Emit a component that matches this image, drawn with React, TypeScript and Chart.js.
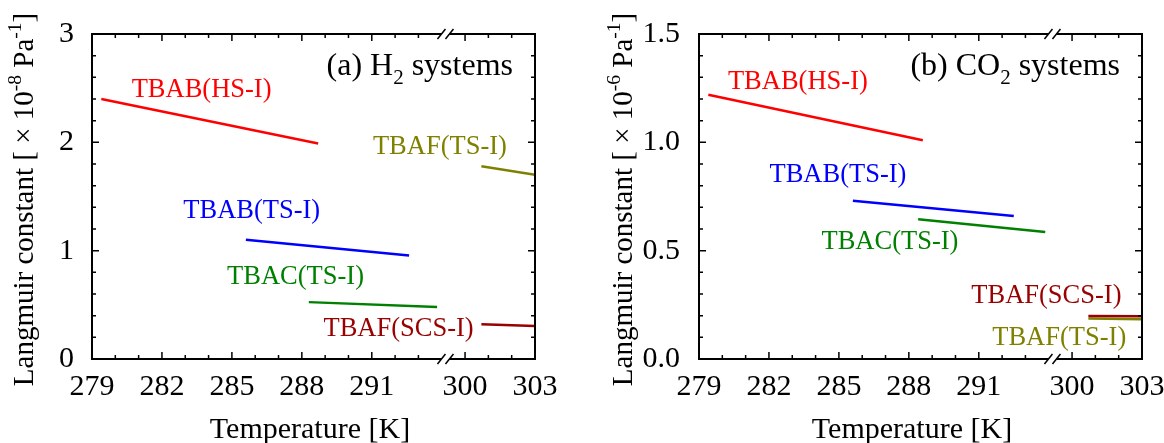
import React, { useEffect, useRef } from 'react';
import { Chart, registerables, LinearScale } from 'chart.js';

Chart.register(...registerables);

const FONT = "'Liberation Serif', 'Times New Roman', serif";

// ---------- x axis (temperature, K) with a break between ~294 K and 300 K ----------
const X_MIN = 279;
const X_MAX = 303;
const X_BREAK_FROM = 297; // temperatures at/above this are drawn after the break
const X_BREAK_SHIFT = 5; // kelvins cut out by the break
const X_BREAK_MARK = 294.16;
const X_TICKS = [279, 280, 281, 282, 283, 284, 285, 286, 287, 288, 289, 290, 291, 292, 293, 300, 301, 302, 303];
const X_TICK_LABELS = [279, 282, 285, 288, 291, 300, 303];
const X_TITLE = 'Temperature [K]';

// ---------- (a) H2 systems, Langmuir constant ×10^-8 Pa^-1 ----------
const H2_TBAB_HS_T = [279.4, 288.7];
const H2_TBAB_HS_K = [2.4, 1.99];
const H2_TBAB_TS_T = [285.6, 292.6];
const H2_TBAB_TS_K = [1.1, 0.955];
const H2_TBAC_TS_T = [288.3, 293.8];
const H2_TBAC_TS_K = [0.525, 0.48];
const H2_TBAF_TS_T = [300.7, 303];
const H2_TBAF_TS_K = [1.78, 1.7];
const H2_TBAF_SCS_T = [300.7, 303];
const H2_TBAF_SCS_K = [0.32, 0.305];

// ---------- (b) CO2 systems, Langmuir constant ×10^-6 Pa^-1 ----------
const CO2_TBAB_HS_T = [279.4, 288.6];
const CO2_TBAB_HS_K = [1.22, 1.01];
const CO2_TBAB_TS_T = [285.6, 292.5];
const CO2_TBAB_TS_K = [0.73, 0.66];
const CO2_TBAC_TS_T = [288.4, 293.85];
const CO2_TBAC_TS_K = [0.645, 0.586];
const CO2_TBAF_SCS_T = [300.7, 303];
const CO2_TBAF_SCS_K = [0.199, 0.197];
const CO2_TBAF_TS_T = [300.7, 303];
const CO2_TBAF_TS_K = [0.187, 0.184];

const RED = '#ff0000';
const BLUE = '#0000ff';
const GREEN = '#008000';
const OLIVE = '#808000';
const DARKRED = '#990000';

class BrokenLinearScale extends LinearScale {
  static id = 'brokenLinear';
  static defaults = {};
  buildTicks() {
    return X_TICKS.map((value) => ({ value }));
  }
  getPixelForValue(value: number) {
    const v = value >= X_BREAK_FROM ? value - X_BREAK_SHIFT : value;
    return (this as any).getPixelForDecimal((v - X_MIN) / (X_MAX - X_BREAK_SHIFT - X_MIN));
  }
}
Chart.register(BrokenLinearScale as any);

const H2_PANEL = {
  title: [{ text: '(a) H' }, { text: '2', sub: true }, { text: ' systems' }],
  exponent: '-8',
  yMax: 3,
  yStep: 0.2,
  yLabelEvery: 1,
  yDecimals: 0,
  layout: { axisLeft: 92, padRight: 47, yLabelPad: 18, yTitleX: 33, xTitleX: 310 },
  series: [
    { name: 'TBAB(HS-I)', color: RED, t: H2_TBAB_HS_T, k: H2_TBAB_HS_K, at: [283.7, 2.48] },
    { name: 'TBAB(TS-I)', color: BLUE, t: H2_TBAB_TS_T, k: H2_TBAB_TS_K, at: [285.85, 1.366] },
    { name: 'TBAC(TS-I)', color: GREEN, t: H2_TBAC_TS_T, k: H2_TBAC_TS_K, at: [287.73, 0.752] },
    { name: 'TBAF(TS-I)', color: OLIVE, t: H2_TBAF_TS_T, k: H2_TBAF_TS_K, at: [293.92, 1.957] },
    { name: 'TBAF(SCS-I)', color: DARKRED, t: H2_TBAF_SCS_T, k: H2_TBAF_SCS_K, at: [292.15, 0.277] },
  ],
};

const CO2_PANEL = {
  title: [{ text: '(b) CO' }, { text: '2', sub: true }, { text: ' systems' }],
  exponent: '-6',
  yMax: 1.5,
  yStep: 0.1,
  yLabelEvery: 0.5,
  yDecimals: 1,
  layout: { axisLeft: 117, padRight: 22, yLabelPad: 19, yTitleX: 50, xTitleX: 330 },
  series: [
    { name: 'TBAB(HS-I)', color: RED, t: CO2_TBAB_HS_T, k: CO2_TBAB_HS_K, at: [283.24, 1.276] },
    { name: 'TBAB(TS-I)', color: BLUE, t: CO2_TBAB_TS_T, k: CO2_TBAB_TS_K, at: [284.96, 0.849] },
    { name: 'TBAC(TS-I)', color: GREEN, t: CO2_TBAC_TS_T, k: CO2_TBAC_TS_K, at: [287.19, 0.54] },
    { name: 'TBAF(SCS-I)', color: DARKRED, t: CO2_TBAF_SCS_T, k: CO2_TBAF_SCS_K, at: [293.9, 0.291] },
    { name: 'TBAF(TS-I)', color: OLIVE, t: CO2_TBAF_TS_T, k: CO2_TBAF_TS_K, at: [294.45, 0.097] },
  ],
};

function drawParts(ctx: CanvasRenderingContext2D, parts: any[], startX: number, baseY: number, size: number, small: number, shift: number) {
  let cx = startX;
  for (const p of parts) {
    const s = p.sub || p.sup ? small : size;
    ctx.font = `${s}px ${FONT}`;
    const dy = p.sub ? shift : p.sup ? -shift : 0;
    ctx.fillText(p.text, cx, baseY + dy);
    cx += ctx.measureText(p.text).width;
  }
  return cx - startX;
}

function measureParts(ctx: CanvasRenderingContext2D, parts: any[], size: number, small: number) {
  let w = 0;
  for (const p of parts) {
    ctx.font = `${p.sub || p.sup ? small : size}px ${FONT}`;
    w += ctx.measureText(p.text).width;
  }
  return w;
}

function makeDecorPlugin(panel: any) {
  return {
    id: 'decor',
    afterDraw(chart: any) {
      const { ctx, chartArea: a } = chart;
      const x = chart.scales.x;
      const y = chart.scales.y;
      ctx.save();
      // frame
      ctx.strokeStyle = '#000';
      ctx.lineWidth = 2;
      ctx.strokeRect(a.left, a.top, a.right - a.left, a.bottom - a.top);
      // inward ticks on all four sides
      ctx.lineWidth = 1.5;
      ctx.beginPath();
      x.ticks.forEach((t: any) => {
        const px = x.getPixelForValue(t.value);
        const len = X_TICK_LABELS.includes(t.value) ? 7 : 4;
        ctx.moveTo(px, a.bottom);
        ctx.lineTo(px, a.bottom - len);
        ctx.moveTo(px, a.top);
        ctx.lineTo(px, a.top + len);
      });
      y.ticks.forEach((t: any) => {
        const py = y.getPixelForValue(t.value);
        const len = t.label !== '' ? 7 : 4;
        ctx.moveTo(a.left, py);
        ctx.lineTo(a.left + len, py);
        ctx.moveTo(a.right, py);
        ctx.lineTo(a.right - len, py);
      });
      ctx.stroke();
      // axis break marks
      const bx = x.getPixelForValue(X_BREAK_MARK);
      [a.top, a.bottom].forEach((ey: number) => {
        ctx.fillStyle = '#fff';
        ctx.beginPath();
        ctx.moveTo(bx - 8, ey + 5);
        ctx.lineTo(bx, ey - 5);
        ctx.lineTo(bx + 8, ey - 5);
        ctx.lineTo(bx, ey + 5);
        ctx.closePath();
        ctx.fill();
        ctx.beginPath();
        ctx.moveTo(bx - 8, ey + 5);
        ctx.lineTo(bx, ey - 5);
        ctx.moveTo(bx, ey + 5);
        ctx.lineTo(bx + 8, ey - 5);
        ctx.lineWidth = 1.5;
        ctx.stroke();
      });
      // series labels
      ctx.textAlign = 'center';
      ctx.textBaseline = 'middle';
      ctx.font = `26.5px ${FONT}`;
      panel.series.forEach((s: any) => {
        ctx.fillStyle = s.color;
        ctx.fillText(s.name, x.getPixelForValue(s.at[0]), y.getPixelForValue(s.at[1]));
      });
      // x axis title
      ctx.fillStyle = '#000';
      ctx.font = `30px ${FONT}`;
      ctx.fillText(X_TITLE, panel.layout.xTitleX, 430);
      // panel title
      ctx.textAlign = 'left';
      ctx.textBaseline = 'alphabetic';
      const tw = measureParts(ctx, panel.title, 32, 21);
      drawParts(ctx, panel.title, a.right - 22 - tw, a.top + 41, 32, 21, 9);
      // y axis title (rotated, with superscripts)
      const yParts = [
        { text: 'Langmuir constant [ × 10' },
        { text: panel.exponent, sup: true },
        { text: ' Pa' },
        { text: '-1', sup: true },
        { text: ']' },
      ];
      const yw = measureParts(ctx, yParts, 29, 19.5);
      ctx.translate(panel.layout.yTitleX, (a.top + a.bottom) / 2 + 3);
      ctx.rotate(-Math.PI / 2);
      drawParts(ctx, yParts, -yw / 2, 0, 29, 19.5, 12);
      ctx.restore();
    },
  };
}

function makeChart(canvas: HTMLCanvasElement, panel: any) {
  const L = panel.layout;
  return new Chart(canvas, {
    type: 'line',
    data: {
      datasets: panel.series.map((s: any) => ({
        label: s.name,
        data: s.t.map((t: number, i: number) => ({ x: t, y: s.k[i] })),
        borderColor: s.color,
        backgroundColor: s.color,
        borderWidth: 2.5,
        pointRadius: 0,
        fill: false,
        tension: 0,
      })),
    },
    options: {
      animation: false,
      responsive: false,
      devicePixelRatio: 1,
      events: [],
      layout: { padding: { left: 0, top: 34, right: L.padRight, bottom: 0 } },
      plugins: { legend: { display: false }, tooltip: { enabled: false }, title: { display: false } },
      scales: {
        x: {
          type: 'brokenLinear' as any,
          min: X_MIN,
          max: X_MAX,
          grid: { display: false, drawTicks: false },
          border: { display: false },
          ticks: {
            autoSkip: false,
            maxRotation: 0,
            minRotation: 0,
            padding: 10,
            color: '#000',
            font: { family: FONT, size: 30, lineHeight: 1.2 },
            callback: (v: any) => (X_TICK_LABELS.includes(v) ? String(v) : ''),
          },
          title: { display: false },
          afterFit: (s: any) => {
            s.height = 84;
            s.paddingLeft = 0;
            s.paddingRight = 0;
          },
        } as any,
        y: {
          min: 0,
          max: panel.yMax,
          grid: { display: false, drawTicks: false },
          border: { display: false },
          ticks: {
            stepSize: panel.yStep,
            autoSkip: false,
            padding: L.yLabelPad,
            color: '#000',
            font: { family: FONT, size: 30 },
            callback: (v: any) => {
              const r = v / panel.yLabelEvery;
              return Math.abs(r - Math.round(r)) < 1e-6 ? Number(v).toFixed(panel.yDecimals) : '';
            },
          },
          afterFit: (s: any) => {
            s.width = L.axisLeft;
            s.paddingTop = 0;
            s.paddingBottom = 0;
          },
        },
      },
    },
    plugins: [makeDecorPlugin(panel)],
  } as any);
}

function Panel({ panel }: { panel: any }) {
  const ref = useRef<HTMLCanvasElement>(null);
  useEffect(() => {
    const chart = makeChart(ref.current as HTMLCanvasElement, panel);
    return () => chart.destroy();
  }, [panel]);
  return <canvas ref={ref} width={582} height={443} style={{ display: 'block', width: 582, height: 443 }} />;
}

export default function App() {
  return (
    <div style={{ position: 'fixed', left: 0, top: 0, width: 1164, height: 443, display: 'flex', background: '#fff' }}>
      <Panel panel={H2_PANEL} />
      <Panel panel={CO2_PANEL} />
    </div>
  );
}
